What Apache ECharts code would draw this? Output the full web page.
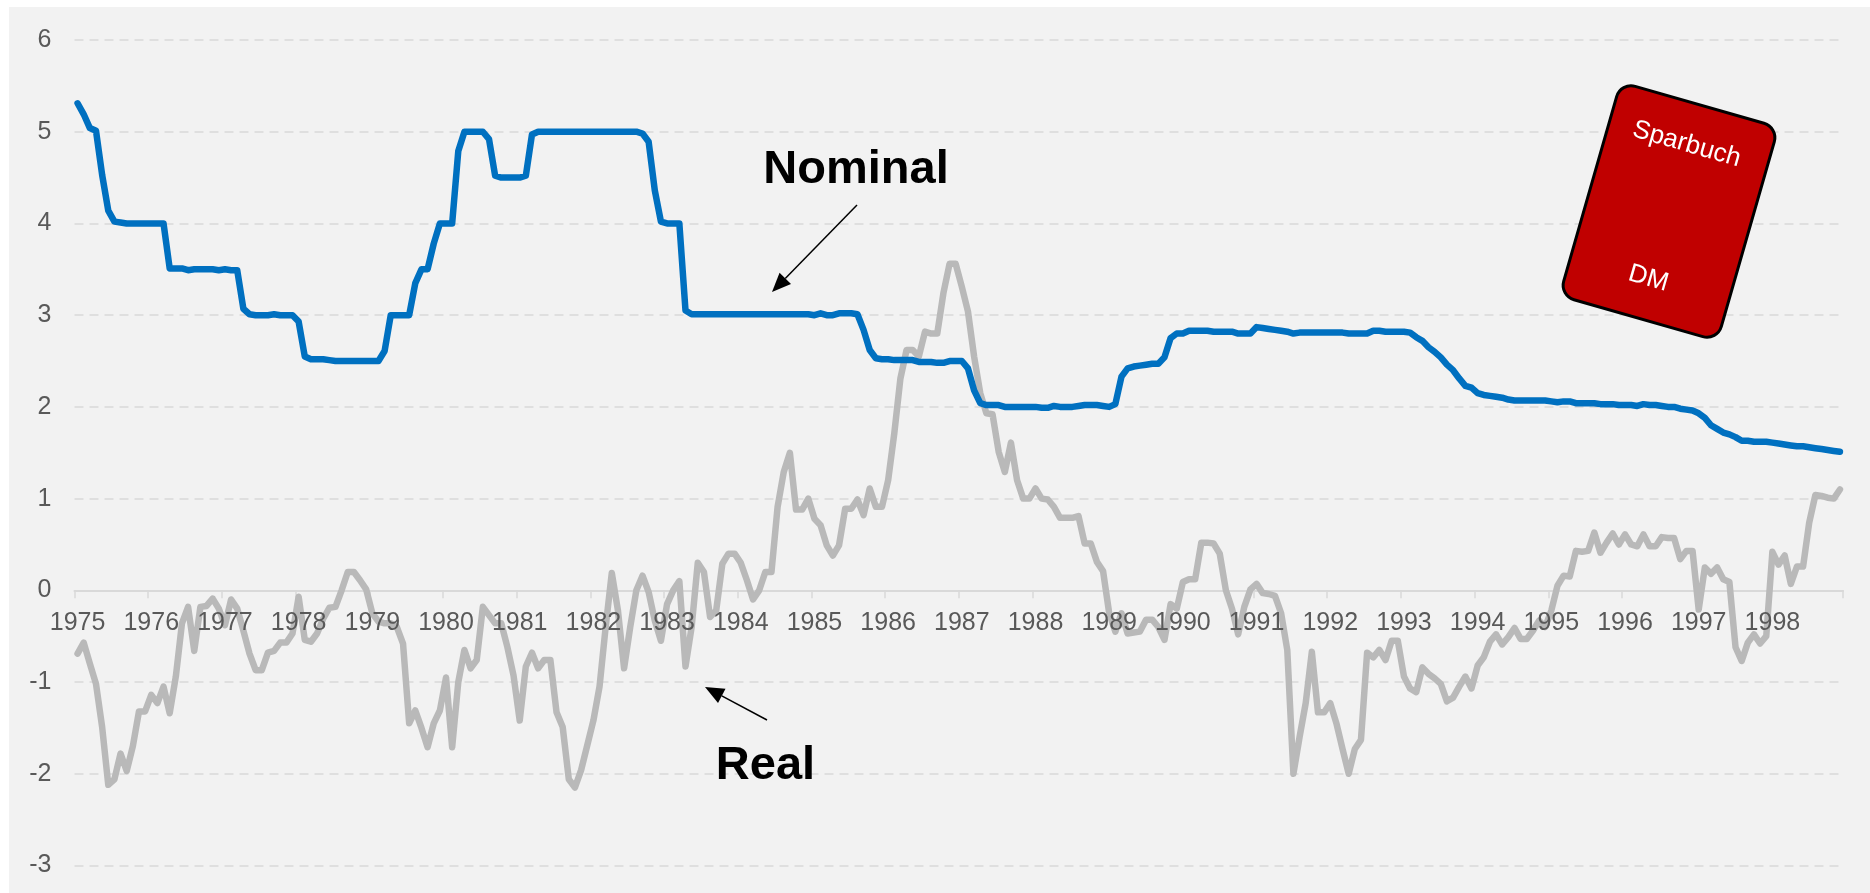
<!DOCTYPE html>
<html>
<head>
<meta charset="utf-8">
<style>html,body{margin:0;padding:0;background:#fff}#c{width:1870px;height:893px}</style>
<script src="https://cdn.jsdelivr.net/npm/echarts@6/dist/echarts.min.js"></script>
</head>
<body>
<div id="c"></div>
<script>
const years = [1975,1976,1977,1978,1979,1980,1981,1982,1983,1984,1985,1986,1987,1988,1989,1990,1991,1992,1993,1994,1995,1996,1997,1998];
const months = ['01','02','03','04','05','06','07','08','09','10','11','12'];
const nominal = [
5.31,5.19,5.04,5.01,4.53,4.14,4.02,4.01,4.00,4.00,4.00,4.00,
4.00,4.00,4.00,3.51,3.51,3.51,3.49,3.50,3.50,3.50,3.50,3.49,
3.50,3.49,3.49,3.07,3.01,3.00,3.00,3.00,3.01,3.00,3.00,3.00,
2.93,2.55,2.52,2.52,2.52,2.51,2.50,2.50,2.50,2.50,2.50,2.50,
2.50,2.50,2.61,3.00,3.00,3.00,3.00,3.35,3.50,3.50,3.78,4.00,
4.00,4.00,4.79,5.00,5.00,5.00,5.00,4.92,4.52,4.50,4.50,4.50,
4.50,4.52,4.97,5.00,5.00,5.00,5.00,5.00,5.00,5.00,5.00,5.00,
5.00,5.00,5.00,5.00,5.00,5.00,5.00,5.00,4.98,4.89,4.36,4.02,
4.00,4.00,4.00,3.05,3.01,3.01,3.01,3.01,3.01,3.01,3.01,3.01,
3.01,3.01,3.01,3.01,3.01,3.01,3.01,3.01,3.01,3.01,3.01,3.01,
3.00,3.02,3.00,3.00,3.02,3.02,3.02,3.01,2.84,2.62,2.53,2.52,
2.52,2.51,2.51,2.51,2.51,2.49,2.49,2.49,2.48,2.48,2.50,2.50,
2.50,2.42,2.18,2.04,2.02,2.02,2.02,2.00,2.00,2.00,2.00,2.00,
2.00,1.99,1.99,2.01,2.00,2.00,2.00,2.01,2.02,2.02,2.02,2.01,
2.00,2.03,2.33,2.42,2.44,2.45,2.46,2.47,2.47,2.54,2.75,2.80,
2.80,2.83,2.83,2.83,2.83,2.82,2.82,2.82,2.82,2.80,2.80,2.80,
2.87,2.86,2.85,2.84,2.83,2.82,2.80,2.81,2.81,2.81,2.81,2.81,
2.81,2.81,2.81,2.80,2.80,2.80,2.80,2.83,2.83,2.82,2.82,2.82,
2.82,2.81,2.76,2.72,2.65,2.60,2.54,2.46,2.40,2.31,2.23,2.21,
2.15,2.13,2.12,2.11,2.10,2.08,2.07,2.07,2.07,2.07,2.07,2.07,
2.06,2.05,2.06,2.06,2.04,2.04,2.04,2.04,2.03,2.03,2.03,2.02,
2.02,2.02,2.01,2.03,2.02,2.02,2.01,2.00,2.00,1.98,1.97,1.96,
1.93,1.88,1.80,1.76,1.72,1.70,1.67,1.63,1.63,1.62,1.62,1.62,
1.61,1.60,1.59,1.58,1.57,1.57,1.56,1.55,1.54,1.53,1.52,1.51
];
const real = [
-0.69,-0.57,-0.80,-1.02,-1.49,-2.12,-2.06,-1.78,-1.97,-1.70,-1.32,-1.32,
-1.14,-1.23,-1.05,-1.34,-0.94,-0.36,-0.18,-0.66,-0.18,-0.17,-0.09,-0.20,
-0.38,-0.10,-0.20,-0.44,-0.69,-0.87,-0.87,-0.68,-0.66,-0.57,-0.57,-0.47,
-0.07,-0.54,-0.56,-0.47,-0.31,-0.19,-0.18,0.00,0.20,0.20,0.11,0.01,
-0.25,-0.34,-0.36,-0.36,-0.40,-0.58,-1.45,-1.31,-1.50,-1.71,-1.45,-1.31,
-0.95,-1.71,-1.00,-0.65,-0.85,-0.76,-0.18,-0.27,-0.36,-0.36,-0.62,-0.93,
-1.42,-0.83,-0.68,-0.85,-0.76,-0.76,-1.33,-1.49,-2.06,-2.15,-1.96,-1.69,
-1.42,-1.05,-0.40,0.19,-0.22,-0.85,-0.40,0.00,0.16,-0.02,-0.33,-0.55,
-0.15,0.00,0.10,-0.83,-0.40,0.30,0.20,-0.29,-0.22,0.29,0.40,0.40,
0.30,0.11,-0.10,0.00,0.20,0.20,0.91,1.29,1.50,0.88,0.88,1.00,
0.78,0.71,0.49,0.38,0.49,0.89,0.89,0.99,0.82,1.11,0.91,0.91,
1.20,1.71,2.31,2.62,2.62,2.55,2.82,2.80,2.80,3.24,3.56,3.56,
3.31,3.04,2.55,2.15,1.93,1.92,1.51,1.29,1.61,1.20,1.00,1.00,
1.11,1.00,0.99,0.91,0.79,0.79,0.79,0.81,0.51,0.51,0.31,0.21,
-0.25,-0.45,-0.25,-0.47,-0.46,-0.45,-0.32,-0.32,-0.40,-0.54,-0.15,-0.20,
0.09,0.12,0.12,0.52,0.52,0.51,0.40,0.00,-0.20,-0.48,-0.18,0.01,
0.07,-0.03,-0.04,-0.06,-0.25,-0.65,-2.00,-1.60,-1.23,-0.67,-1.33,-1.33,
-1.23,-1.45,-1.73,-2.00,-1.73,-1.63,-0.68,-0.73,-0.65,-0.76,-0.55,-0.55,
-0.94,-1.07,-1.11,-0.84,-0.91,-0.96,-1.02,-1.21,-1.17,-1.05,-0.94,-1.07,
-0.82,-0.73,-0.56,-0.48,-0.59,-0.51,-0.41,-0.53,-0.53,-0.44,-0.33,-0.40,
-0.22,0.05,0.16,0.15,0.43,0.42,0.43,0.63,0.41,0.52,0.62,0.50,
0.61,0.50,0.48,0.61,0.48,0.48,0.58,0.57,0.57,0.34,0.43,0.43,
-0.21,0.25,0.18,0.25,0.12,0.09,-0.62,-0.77,-0.57,-0.48,-0.58,-0.50,
0.42,0.28,0.38,0.07,0.26,0.26,0.74,1.04,1.03,1.01,1.00,1.10
];
const categories = years.flatMap(y => months.map(m => y + '-' + m));
const yearLabel = v => v.slice(0, 4);
const fontFamily = '"Liberation Sans", Arial, sans-serif';

function arrow(x1, y1, x2, y2) {
  const d = Math.hypot(x2 - x1, y2 - y1), ux = (x2 - x1) / d, uy = (y2 - y1) / d;
  const L = 19, W = 8;
  const bx = x2 - ux * L, by = y2 - uy * L;
  return [
    {type: 'line', silent: true, z: 10, shape: {x1, y1, x2: bx, y2: by}, style: {stroke: '#000', lineWidth: 1.5}},
    {type: 'polygon', silent: true, z: 10, shape: {points: [[x2, y2], [bx - uy * W, by + ux * W], [bx + uy * W, by - ux * W]]}, style: {fill: '#000'}}
  ];
}
const cardAngle = -16 * Math.PI / 180;
const gridTop = 40, gridBottom = 27.5, gridHeight = 893 - gridTop - gridBottom;

const chart = echarts.init(document.getElementById('c'), null, {renderer: 'canvas'});
chart.setOption({
  animation: false,
  backgroundColor: '#fff',
  grid: {left: 74.5, right: 27, top: gridTop, bottom: gridBottom, containLabel: false, outerBoundsMode: 'none'},
  xAxis: [{
    type: 'category', data: categories, boundaryGap: true, position: 'bottom', z: 0,
    axisLine: {show: true, onZero: true, lineStyle: {color: '#D9D9D9', width: 2}},
    axisTick: {show: true, interval: 11, length: 8, lineStyle: {color: '#D9D9D9', width: 1.5}},
    axisLabel: {show: false},
    splitLine: {show: false}
  }, {
    type: 'category', data: categories, boundaryGap: true, position: 'bottom', z: 5,
    offset: -gridHeight / 3,
    axisLine: {show: false, onZero: false},
    axisTick: {show: false},
    axisLabel: {show: true, interval: 11, formatter: yearLabel, margin: 20, fontSize: 25, color: '#595959', fontFamily: fontFamily, hideOverlap: false},
    splitLine: {show: false}
  }],
  yAxis: {
    type: 'value', min: -3, max: 6, interval: 1,
    axisLine: {show: false}, axisTick: {show: false},
    axisLabel: {fontSize: 25, color: '#595959', margin: 23, fontFamily: fontFamily},
    splitLine: {show: true, lineStyle: {color: '#D9D9D9', width: 1.5, type: [9, 6]}}
  },
  series: [
    {name: 'Real', type: 'line', data: real, xAxisIndex: 0, symbol: 'none', z: 2, silent: true,
     lineStyle: {color: '#B9B9B9', width: 6.5, cap: 'round', join: 'round'}},
    {name: 'Nominal', type: 'line', data: nominal, xAxisIndex: 0, symbol: 'none', z: 3, silent: true,
     lineStyle: {color: '#0070C0', width: 6.5, cap: 'round', join: 'round'}}
  ],
  graphic: [
    {type: 'rect', silent: true, z: -100, zlevel: 0, shape: {x: 9, y: 7, width: 1861, height: 886}, style: {fill: '#F2F2F2'}},
    {type: 'text', silent: true, z: 10, x: 856, y: 170, style: {text: 'Nominal', font: 'bold 47px ' + fontFamily, fill: '#000', align: 'center', verticalAlign: 'middle'}},
    {type: 'text', silent: true, z: 10, x: 765.5, y: 766, style: {text: 'Real', font: 'bold 47px ' + fontFamily, fill: '#000', align: 'center', verticalAlign: 'middle'}},
    ...arrow(857, 205, 772, 292),
    ...arrow(767, 720, 705, 687),
    {type: 'rect', silent: true, z: 10, x: 1669, y: 211.5, rotation: cardAngle,
     shape: {x: -82, y: -111, width: 164, height: 222, r: 15}, style: {fill: '#C00000', stroke: '#000', lineWidth: 3}},
    {type: 'text', silent: true, z: 11, x: 1686.7, y: 144.3, rotation: cardAngle, style: {text: 'Sparbuch', font: '26px ' + fontFamily, fill: '#fff', align: 'center', verticalAlign: 'middle'}},
    {type: 'text', silent: true, z: 11, x: 1648.3, y: 278.5, rotation: cardAngle, style: {text: 'DM', font: '26px ' + fontFamily, fill: '#fff', align: 'center', verticalAlign: 'middle'}}
  ]
});
</script>
</body>
</html>
